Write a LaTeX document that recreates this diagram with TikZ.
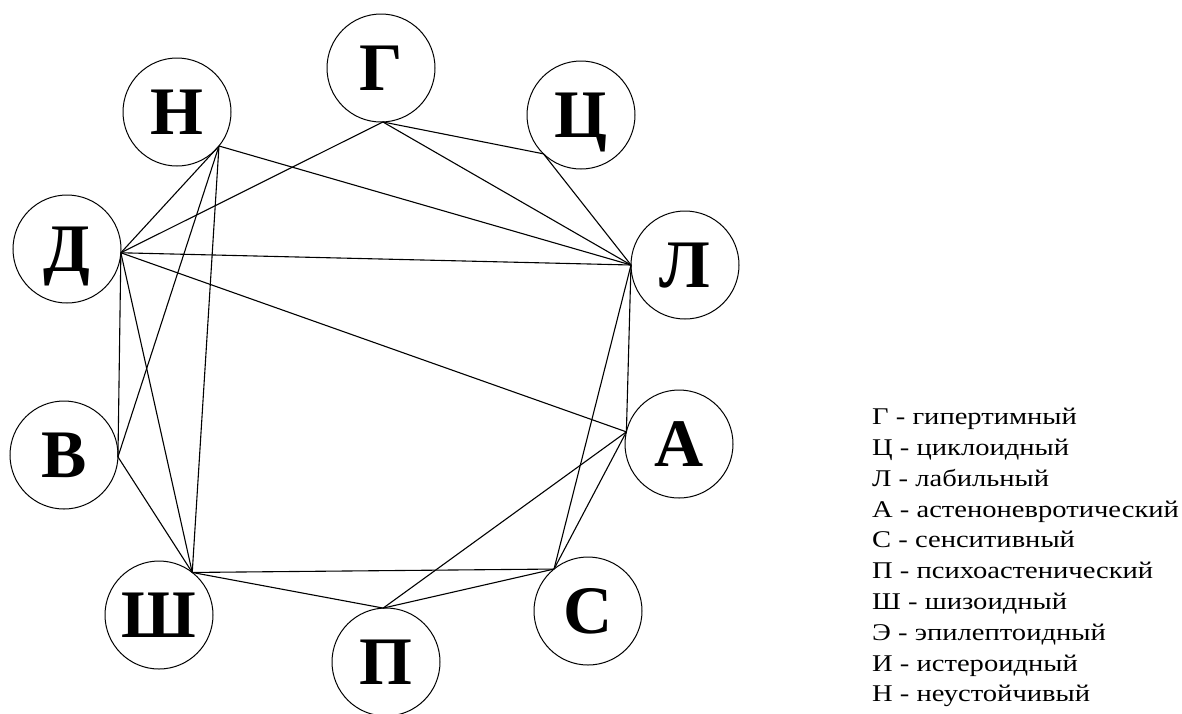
\documentclass[tikz,border=0pt]{standalone}
\usepackage{fontspec}
\setmainfont{Liberation Serif}
\begin{document}
\begin{tikzpicture}[x=1pt,y=-1pt,
  typ/.style={circle,draw,line width=1pt,minimum size=108pt,inner sep=0pt,outer sep=0pt,
    font=\fontsize{68}{68}\selectfont\bfseries,text depth=0pt},
  link/.style={line width=1.1pt}]
\path[use as bounding box,fill=white] (0,0) rectangle (1182,713);
\node[typ] (G) at (381,68) {Г};
\node[typ] (N) at (177,112) {Н};
\node[typ] (C) at (581,115) {Ц};
\node[typ] (D) at (67,249) {Д};
\node[typ] (L) at (685,265) {Л};
\node[typ] (A) at (679,444) {А};
\node[typ] (V) at (64,455) {В};
\node[typ] (S) at (588,611) {С};
\node[typ] (Sh) at (159,615) {Ш};
\node[typ] (P) at (386,662) {П};
\coordinate (pN) at (N.-39);
\coordinate (pG) at (G.-88);
\coordinate (pD) at (D.-4);
\coordinate (pC) at (C.226);
\coordinate (pL) at (L.180);
\coordinate (pV) at (V.-2);
\coordinate (pSh) at (Sh.52);
\coordinate (pP) at (P.93);
\coordinate (pA) at (A.167);
\coordinate (pS) at (S.129);
\draw[link] (pN) -- (pL);
\draw[link] (pN) -- (pD);
\draw[link] (pN) -- (pV);
\draw[link] (pN) -- (pSh);
\draw[link] (pG) -- (pD);
\draw[link] (pG) -- (pC);
\draw[link] (pG) -- (pL);
\draw[link] (pC) -- (pL);
\draw[link] (pD) -- (pL);
\draw[link] (pD) -- (pA);
\draw[link] (pD) -- (pV);
\draw[link] (pD) -- (pSh);
\draw[link] (pL) -- (pA);
\draw[link] (pL) -- (pS);
\draw[link] (pA) -- (pS);
\draw[link] (pA) -- (pP);
\draw[link] (pV) -- (pSh);
\draw[link] (pSh) -- (pS);
\draw[link] (pSh) -- (pP);
\draw[link] (pP) -- (pS);
\node[anchor=north west,inner sep=0pt] (legend) at (872,403) {\scalebox{1.19}[1]{%
\fontsize{24}{30.8}\selectfont
\begin{tabular}{@{}l@{}}
Г - гипертимный\\
Ц - циклоидный\\
Л - лабильный\\
А - астеноневротический\\
С - сенситивный\\
П - психоастенический\\
Ш - шизоидный\\
Э - эпилептоидный\\
И - истероидный\\
Н - неустойчивый
\end{tabular}}};
\end{tikzpicture}
\end{document}
